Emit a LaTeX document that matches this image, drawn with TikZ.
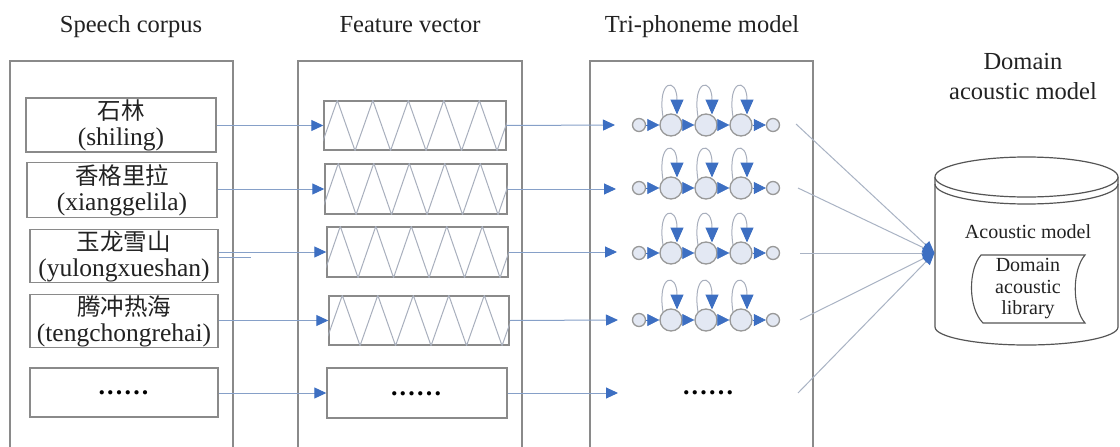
\documentclass[tikz,border=0pt]{standalone}
\usepackage{fontspec}
\setmainfont{Liberation Serif}
\newfontfamily\cjk{Noto Sans CJK SC}
\usetikzlibrary{arrows.meta,calc}
\definecolor{edgegray}{HTML}{8A8A8A}
\definecolor{connblue}{HTML}{86A0C8}
\definecolor{convgray}{HTML}{A9B3C4}
\definecolor{tipblue}{HTML}{3D6FC2}
\definecolor{ziggray}{HTML}{A8AFBD}
\definecolor{circfill}{HTML}{E3E8F3}
\definecolor{circedge}{HTML}{999999}
\definecolor{txt}{HTML}{222222}
\definecolor{cyledge}{HTML}{555555}
\newcommand\sixdots{\textbf{.\hspace{2.2pt}.\hspace{2.2pt}.\hspace{2.2pt}.\hspace{2.2pt}.\hspace{2.2pt}.}}
\tikzset{
  container/.style={draw=edgegray, line width=1.5pt},
  sbox/.style={draw=edgegray, line width=1.4pt, inner sep=0pt, align=center, text=txt,
    font=\fontsize{25.5}{26}\selectfont},
  fbox/.style={draw=edgegray, line width=1.4pt, inner sep=0pt},
  conn/.style={draw=connblue, line width=1pt, -{Triangle[length=12pt,width=11pt,color=tipblue]}},
  connline/.style={draw=connblue, line width=1pt},
  conv/.style={draw=convgray, line width=1pt, -{Triangle[length=12pt,width=10pt,color=tipblue]}},
  title/.style={text=txt, font=\fontsize{24.5}{30}\selectfont, anchor=base},
  zig/.style={draw=ziggray, line width=1pt},
  small/.style={circle, draw=circedge, fill=circfill, line width=1.3pt, minimum size=13pt, inner sep=0pt},
  big/.style={circle, draw=circedge, fill=circfill, line width=1.3pt, minimum size=22pt, inner sep=0pt},
  hop/.style={draw=tipblue, line width=0.6pt, -{Triangle[length=12pt,width=12pt,color=tipblue]}},
  selfloop/.style={draw=ziggray, line width=1pt, -{Triangle[length=15pt,width=13pt,color=tipblue]}},
  dots/.style={text=black, anchor=base, font=\fontsize{26}{26}\selectfont},
  cyl/.style={draw=cyledge, line width=1.2pt},
}
\newcommand\zz[1]{%
  \begin{scope}
    \clip (#1.south west) rectangle (#1.north east);
    \draw[zig] ($(#1.south west)+(-3.75,0)$) \foreach \k in {0,...,5}{
      -- ($(#1.north west)+({14+35.5*\k},0)$) -- ($(#1.south west)+({31.75+35.5*\k},0)$) };
  \end{scope}}
\newcommand\hmmrow[2]{%
  \node[small] (#2a) at (639,#1) {};
  \node[big] (#2b) at (671,#1) {};
  \node[big] (#2c) at (706,#1) {};
  \node[big] (#2d) at (741,#1) {};
  \node[small] (#2e) at (773,#1) {};
  \draw[hop] (#2a) -- (#2b);
  \draw[hop] (#2b) -- (#2c);
  \draw[hop] (#2c) -- (#2d);
  \draw[hop] (#2d) -- (#2e);
  \foreach \n in {b,c,d}{
    \draw[selfloop] ($(#2\n)+(-8,-8)$) .. controls ($(#2\n)+(-14,-46)$) and ($(#2\n)+(6,-48)$) .. ($(#2\n)+(6,-10.5)$);
  }}
\begin{document}
\begin{tikzpicture}[x=1pt,y=-1pt]
\useasboundingbox (0,0) rectangle (1120,447);
\fill[white] (0,0) rectangle (1120,447);

% titles
\node[title] (t1) at (131,32) {Speech corpus};
\node[title] (t2) at (410,32) {Feature vector};
\node[title] (t3) at (702,32) {Tri-phoneme model};
\node[text=txt, font=\fontsize{24.5}{30}\selectfont, align=center] (t4) at (1023,77) {Domain\\acoustic model};

% containers
\draw[container] (10,447) -- (10,61) -- (233,61) -- (233,447);
\draw[container] (298,447) -- (298,61) -- (522,61) -- (522,447);
\draw[container] (590,447) -- (590,61) -- (813,61) -- (813,447);

% speech corpus boxes
\node[sbox, minimum width=190pt, minimum height=54pt] (s1) at (121,125) {{\cjk\fontsize{23.5}{26}\selectfont 石林}\\(shiling)};
\node[sbox, minimum width=190pt, minimum height=55pt] (s2) at (122,190) {{\cjk\fontsize{23.5}{26}\selectfont 香格里拉}\\(xianggelila)};
\node[sbox, minimum width=188pt, minimum height=53pt] (s3) at (124,256) {{\cjk\fontsize{23.5}{26}\selectfont 玉龙雪山}\\(yulongxueshan)};
\node[sbox, minimum width=188pt, minimum height=53pt] (s4) at (124,321) {{\cjk\fontsize{23.5}{26}\selectfont 腾冲热海}\\(tengchongrehai)};
\node[sbox, minimum width=188pt, minimum height=49pt] (s5) at (124,392.5) {};
\node[dots] (sd) at (123.5,394) {\sixdots};

% feature vector boxes
\node[fbox, minimum width=182pt, minimum height=49pt] (f1) at (415,125.5) {};
\node[fbox, minimum width=182pt, minimum height=50pt] (f2) at (416,189) {};
\node[fbox, minimum width=181pt, minimum height=50pt] (f3) at (417.5,252) {};
\node[fbox, minimum width=180pt, minimum height=49pt] (f4) at (419,320.5) {};
\node[fbox, minimum width=180pt, minimum height=50pt] (f5) at (417,393) {};
\zz{f1}\zz{f2}\zz{f3}\zz{f4}
\node[dots] (fd) at (416,395) {\sixdots};

% speech -> feature
\foreach \i in {1,...,5}{ \draw[conn] (s\i.east |- f\i.west) -- (f\i.west); }
\coordinate (stray) at (251,257);
\draw[connline] (s3.east |- stray) -- (stray);

% feature -> tri-phoneme
\coordinate (a1) at (615,125);
\coordinate (a2) at (616,189);
\coordinate (a3) at (617,252);
\coordinate (a4) at (618,320);
\coordinate (a5) at (618,393);
\foreach \i in {1,...,5}{ \draw[conn] (f\i.east) -- (a\i); }

% HMM chains
\hmmrow{125}{h1}
\hmmrow{188}{h2}
\hmmrow{253}{h3}
\hmmrow{320}{h4}
\node[dots] (td) at (708,394) {\sixdots};

% cylinder
\path[cyl, fill=white] (935,177) -- (935,327) .. controls (935,337) and (976,345) .. (1026.5,345)
  .. controls (1077,345) and (1118,337) .. (1118,327) -- (1118,177);
\draw[cyl, fill=white] (1026.5,177) ellipse [x radius=91.5pt, y radius=20pt];
\draw[cyl] (935,184) .. controls (935,195) and (976,204) .. (1026.5,204)
  .. controls (1077,204) and (1118,195) .. (1118,184);
\node[anchor=base, text=txt, font=\fontsize{20}{22}\selectfont] (am) at (1028,238) {Acoustic model};
\draw[cyl, line width=1.1pt] (981,255) -- (1085,255) .. controls (1072,270) and (1072,308) .. (1085,323)
  -- (983,323) .. controls (968,308) and (968,270) .. (981,255) -- cycle;
\node[text=txt, align=center, font=\fontsize{20}{21.5}\selectfont] (lib) at (1028,289) {Domain\\acoustic\\library};

% converging lines
\coordinate (cylL) at (934.5,253);
\coordinate (e1) at (796,124);
\coordinate (e2) at (798,188);
\coordinate (e3) at (800,253);
\coordinate (e4) at (800,320);
\coordinate (e5) at (798,393);
\foreach \i in {1,...,5}{ \draw[conv] (e\i) -- (cylL); }
\end{tikzpicture}
\end{document}
